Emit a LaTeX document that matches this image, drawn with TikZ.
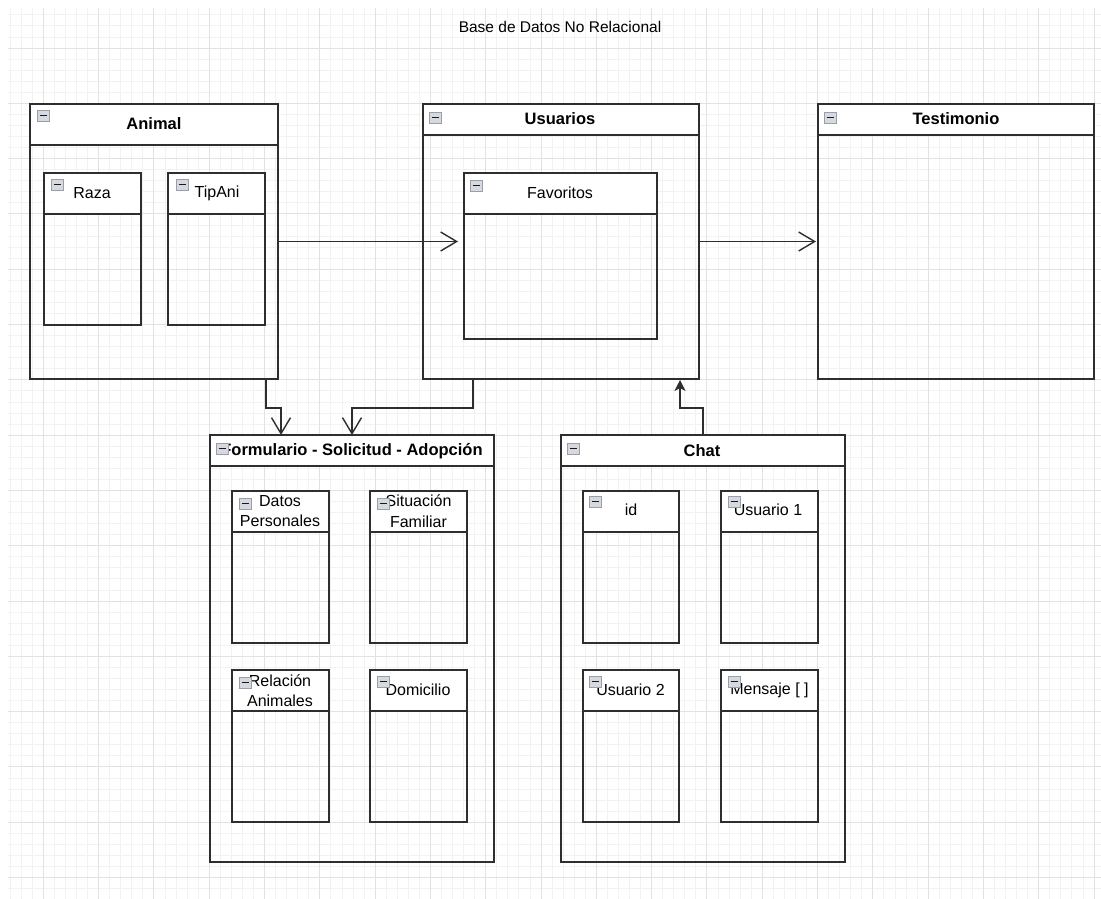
\documentclass[tikz,border=0pt]{standalone}
\usepackage{fontspec}
\setmainfont{Liberation Sans}
\usetikzlibrary{arrows.meta}
\definecolor{gmaj}{HTML}{E2E2E2}
\definecolor{gmin}{HTML}{F2F2F2}
\definecolor{ln}{HTML}{2E2E2E}
\definecolor{icf}{HTML}{D6D9E0}
\definecolor{icd}{HTML}{9A9EA6}
\newcommand{\ubox}[6]{% name, x1, y1, x2, y2, header bottom y
  \fill[white] (#2,#3) rectangle (#4,#6);
  \node[box, minimum width={#4-#2}, minimum height={#5-#3}] (#1) at ({(#2+#4)/2},{(#3+#5)/2}) {};
  \draw[draw=ln, line width=1.3pt] (#1.west |- 0,#6) -- (#1.east |- 0,#6);
}
\newcommand{\mico}[2]{%
  \draw[fill=icf, draw=icd, line width=0.9pt] (#1,#2) rectangle ++(12,11);
  \draw[line width=1.8pt, black!90] (#1+2.5,#2+5.5) -- ++(7,0);
}
\begin{document}
\begin{tikzpicture}[x=1pt,y=-1pt,
  box/.style={draw=ln, line width=1.3pt, rectangle, inner sep=0pt, outer sep=0pt},
  ttl/.style={font=\fontsize{16.5}{19}\selectfont\bfseries, inner sep=0pt},
  lbl/.style={font=\fontsize{16}{20.5}\selectfont, inner sep=0pt, align=center},
  conn/.style={draw=ln, line width=1.4pt},
  openarr/.style={conn, -{Straight Barb[length=16pt,width=19pt,line width=1.4pt]}},
  fillarr/.style={conn, -{Stealth[length=11pt,width=11pt,inset=3pt]}},
]
\useasboundingbox (0,0) rectangle (1101,899);
\fill[white] (0,0) rectangle (1101,899);
% grid
\begin{scope}
\clip (8,8) rectangle (1101,899);
\foreach \i in {0,...,99} {
  \draw[gmin, line width=0.8pt] ({10.1+11.06*\i},8) -- ({10.1+11.06*\i},899);
}
\foreach \i in {0,...,81} {
  \draw[gmin, line width=0.8pt] (8,{14.8+11.06*\i}) -- (1101,{14.8+11.06*\i});
}
\foreach \i in {0,...,19} {
  \draw[gmaj, line width=0.9pt] ({43.3+55.3*\i},8) -- ({43.3+55.3*\i},899);
}
\foreach \i in {0,...,16} {
  \draw[gmaj, line width=0.9pt] (8,{48+55.3*\i}) -- (1101,{48+55.3*\i});
}
\end{scope}

\node[lbl, font=\fontsize{15.5}{18}\selectfont] (title) at (560,27) {Base de Datos No Relacional};

% Animal
\ubox{animal}{30}{104}{278}{379}{145}
\mico{37}{110}
\node[ttl] (animalT) at (154,124) {Animal};
\ubox{raza}{44}{173}{141}{325}{214}
\mico{51}{179}
\node[lbl] (razaT) at (92,193) {Raza};
\ubox{tipani}{168}{173}{265}{325}{214}
\mico{176}{179}
\node[lbl] (tipaniT) at (217,193) {TipAni};

% Usuarios
\ubox{usu}{423}{104}{699}{379}{135}
\mico{429}{112}
\node[ttl] (usuT) at (560,119) {Usuarios};
\ubox{fav}{464}{173}{657}{339}{214}
\mico{470}{180}
\node[lbl] (favT) at (560,193) {Favoritos};

% Testimonio
\ubox{test}{818}{104}{1094}{379}{135}
\mico{824}{112}
\node[ttl] (testT) at (956,119) {Testimonio};

% Formulario
\ubox{form}{210}{435}{494}{862}{466}
\node[ttl] (formT) at (352,451) {Formulario - Solicitud - Adopción};
\mico{216}{443}
\ubox{datos}{232}{491}{329}{643}{532}
\node[lbl] (datosT) at (280,511) {Datos\\Personales};
\mico{239}{498}
\ubox{situ}{370}{491}{467}{643}{532}
\node[lbl] (situT) at (418.5,511) {Situación\\Familiar};
\mico{377}{498}
\ubox{rel}{232}{670}{329}{822}{711}
\node[lbl] (relT) at (280,690.5) {Relación\\Animales};
\mico{239}{677}
\ubox{dom}{370}{670}{467}{822}{711}
\node[lbl] (domT) at (418,690) {Domicilio};
\mico{377}{676}

% Chat
\ubox{chat}{561}{435}{845}{862}{466}
\mico{567}{443}
\node[ttl] (chatT) at (702,451) {Chat};
\ubox{cid}{583}{491}{679}{643}{532}
\mico{589}{496}
\node[lbl] (cidT) at (631,510) {id};
\ubox{u1}{721}{491}{818}{643}{532}
\node[lbl] (u1T) at (768,510) {Usuario 1};
\mico{728}{496}
\ubox{u2}{583}{670}{679}{822}{711}
\node[lbl] (u2T) at (630.5,690) {Usuario 2};
\mico{589}{676}
\ubox{msg}{721}{670}{818}{822}{711}
\node[lbl] (msgT) at (769.5,690) {Mensaje [ ]};
\mico{728}{676}

% connectors
\draw[openarr, shorten >=6pt] (animal.east) -- (fav.west |- animal.east);
\draw[openarr, shorten >=2pt] (usu.east) -- (test.west);
\draw[openarr] (266,0 |- animal.south) -- (266,408) -| (281,0 |- form.north);
\draw[openarr] (473,0 |- usu.south) -- (473,408) -| (352,0 |- form.north);
\draw[fillarr, shorten >=1pt] (703,0 |- chat.north) -- (703,408) -| (680,0 |- usu.south);
\end{tikzpicture}
\end{document}
